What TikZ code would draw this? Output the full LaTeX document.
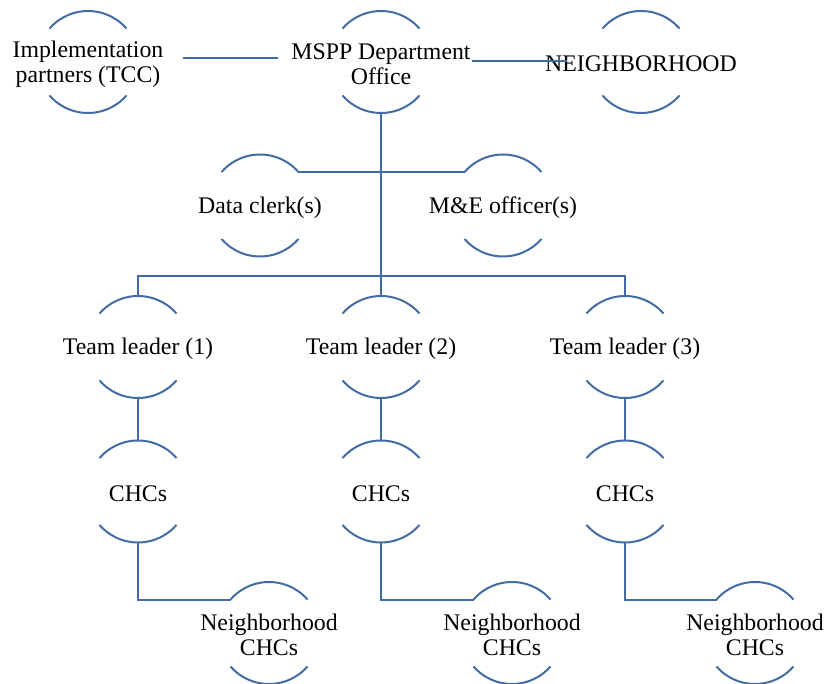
\documentclass[tikz,border=0pt]{standalone}
\usepackage{fontspec}
\setmainfont{Liberation Serif}
\usetikzlibrary{calc}
\definecolor{lnc}{RGB}{66,108,163}
\newcommand{\ringarcs}[1]{%
  \draw[ln] ([shift={(41:38.25pt)}]#1.center) arc[start angle=41,end angle=139,radius=38.25pt];
  \draw[ln] ([shift={(221:38.25pt)}]#1.center) arc[start angle=221,end angle=319,radius=38.25pt];}
\begin{document}
\begin{tikzpicture}[x=0.75pt,y=0.75pt,
  ln/.style={draw=lnc,line width=1.5pt},
  lbl/.style={inner sep=0pt,align=center,yshift=-1.5pt,font=\fontsize{17.85}{18.8}\selectfont}]
\useasboundingbox (0,0) rectangle (825,-684);
% nodes
\node[lbl] (impl) at (88,-62) {Implementation\\partners (TCC)};
\node[lbl] (mspp) at (381,-62) {MSPP Department\\Office};
\node[lbl] (nbh) at (641,-62) {NEIGHBORHOOD};
\node[lbl] (dc) at (260,-205.5) {Data clerk(s)};
\node[lbl] (me) at (503,-205.5) {M\&E officer(s)};
\node[lbl] (tl1) at (138,-347) {Team leader (1)};
\node[lbl] (tl2) at (381,-347) {Team leader (2)};
\node[lbl] (tl3) at (625,-347) {Team leader (3)};
\node[lbl] (c1) at (138,-491.5) {CHCs};
\node[lbl] (c2) at (381,-491.5) {CHCs};
\node[lbl] (c3) at (625,-491.5) {CHCs};
\node[lbl] (n1) at (269,-633) {Neighborhood\\CHCs};
\node[lbl] (n2) at (512,-633) {Neighborhood\\CHCs};
\node[lbl] (n3) at (755,-633) {Neighborhood\\CHCs};
% arcs (drawn around the circle centres, undoing the text shift)
\foreach \n in {impl,mspp,nbh,dc,me,tl1,tl2,tl3,c1,c2,c3,n1,n2,n3}{
  \coordinate (\n c) at ([yshift=1.5pt]\n.center);
  \ringarcs{\n c}}
% connectors
\draw[ln] ($(implc)+(95,4)$) -- ($(msppc)+(-103,4)$);
\draw[ln] ($(msppc)+(91,1)$) -- ($(nbhc)+(-74,1)$);
\coordinate (bus) at (381,-276);
\draw[ln] ([yshift=-38.25pt]msppc) -- (bus);
\draw[ln] ([shift={(41:38.25pt)}]dcc) -- ([shift={(139:38.25pt)}]mec);
\draw[ln] ([yshift=38.25pt]tl1c) |- (bus) -| ([yshift=38.25pt]tl3c);
\draw[ln] (bus) -- ([yshift=38.25pt]tl2c);
\foreach \t/\c/\n in {tl1/c1/n1,tl2/c2/n2,tl3/c3/n3}{
  \draw[ln] ([yshift=-38.25pt]\t c) -- ([yshift=38.25pt]\c c);
  \draw[ln] ([yshift=-38.25pt]\c c) |- ([shift={(139:38.25pt)}]\n c);
}
\end{tikzpicture}
\end{document}
